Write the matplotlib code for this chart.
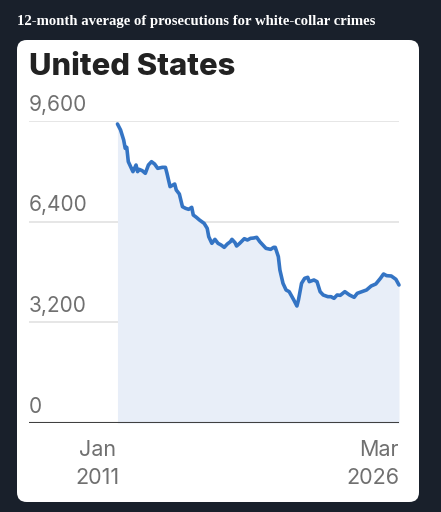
import numpy as np
import matplotlib.pyplot as plt
from matplotlib.patches import FancyBboxPatch

# months since Jan 2011 and the 12-month average
months = [0, 2, 4, 5, 6, 7, 9, 10, 12, 13, 14, 16, 18, 20, 22, 24, 26, 29, 31, 32,
          34, 37, 38, 40, 42, 44, 46, 48, 49, 51, 53, 56, 58, 59, 61, 63, 65, 67, 69, 71,
          73, 74, 76, 77, 79, 82, 84, 86, 88, 90, 92, 94, 96, 99, 101, 102, 104, 105, 107, 109,
          111, 114, 116, 117, 119, 121, 123, 124, 127, 129, 131, 133, 136, 138, 140, 142, 144, 147, 150, 153,
          155, 158, 161, 164, 167, 170, 172, 174, 177, 180, 182]
values = [9505, 9314, 8996, 8731, 8763, 8307, 8095, 7990, 8201, 7990, 8064, 8021, 7937, 8201, 8307, 8233, 8095, 8127, 8127, 7937,
          7513, 7597, 7407, 7279, 6877, 6824, 6792, 6856, 6612, 6538, 6453, 6347, 6188, 5923, 5711, 5838, 5711, 5658, 5584, 5690,
          5764, 5838, 5732, 5626, 5711, 5859, 5817, 5870, 5880, 5902, 5764, 5658, 5552, 5520, 5584, 5584, 5288, 4864, 4440, 4228,
          4175, 3910, 3719, 3910, 4440, 4599, 4631, 4493, 4546, 4493, 4175, 4069, 4016, 4016, 3963, 4069, 4058, 4175, 4069, 3995,
          4122, 4175, 4228, 4355, 4419, 4599, 4737, 4684, 4673, 4567, 4387]
yticks = [0, 3200, 6400, 9600]
ytick_labels = ["0", "3,200", "6,400", "9,600"]
start_label = "Jan\n2011"
end_label = "Mar\n2026"
region = "United States"
headline = "12-month average of prosecutions for white-collar crimes"

W, H = 441, 512
fig = plt.figure(figsize=(W / 100, H / 100), dpi=100, facecolor="#19202b")

# white card
card = FancyBboxPatch((17 / W, 1 - 502 / H), (419 - 17) / W, (502 - 40) / H,
                      boxstyle="round,pad=0,rounding_size=0.022",
                      transform=fig.transFigure, facecolor="white", edgecolor="none",
                      mutation_aspect=W / H, zorder=-5)
fig.patches.append(card)

fig.text(17 / W, 1 - 22 / H, headline, color="white", fontsize=10.6,
         fontfamily="Liberation Serif", fontweight="bold", va="center", ha="left")
fig.text(29 / W, 1 - 75 / H, region, color="#222222", fontsize=22.3,
         fontfamily="Inter", fontweight="heavy", va="baseline", ha="left")

ax = fig.add_axes([29 / W, 1 - 423 / H, (399 - 29) / W, (423 - 121) / H])
ax.set_zorder(2)
ax.patch.set_visible(False)
ax.set_xlim(-57.2, 182)
ax.set_ylim(0, 9600)
ax.axis("off")

for yv, lab in zip(yticks, ytick_labels):
    if yv > 0:
        ax.axhline(yv, color="#e2e2e2", lw=1.2, zorder=1)
    ax.annotate(lab, (0, yv), xycoords=("axes fraction", "data"),
                xytext=(0, 4.5), textcoords="offset points",
                ha="left", va="bottom", fontsize=15, color="#707070",
                fontfamily="Inter")

ax.fill_between(months, values, 0, color="#e8eef8", lw=0, zorder=2)
ax.plot(months, values, color="#3474c4", lw=2.6, zorder=3,
        solid_joinstyle="round", solid_capstyle="round", clip_on=False)
ax.axhline(0, color="#404040", lw=1.5, zorder=4)

ax.annotate(start_label, (0, 0), xycoords="data", xytext=(1.5, -12),
            textcoords="offset points", ha="right", va="top", fontsize=15.5,
            color="#707070", fontfamily="Inter", linespacing=1.5, multialignment="center")
ax.annotate(end_label, (182, 0), xycoords="data", xytext=(0, -12),
            textcoords="offset points", ha="right", va="top", fontsize=15.5,
            color="#707070", fontfamily="Inter", linespacing=1.5, multialignment="right")

fig.savefig("out.png", dpi=100, facecolor=fig.get_facecolor())
